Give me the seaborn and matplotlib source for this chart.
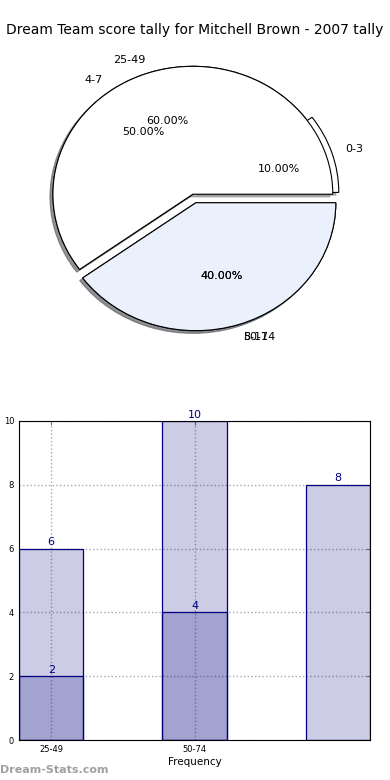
#!/usr/bin/env python3
"""
Dream Team score tally: overlaid pie charts plus overlaid bar chart.
"""
import matplotlib
matplotlib.use("Agg")
import matplotlib.pyplot as plt
import seaborn as sns

TITLE = "Dream Team score tally for Mitchell Brown - 2007 tally"

# first tally (low score ranges)
low_labels = ["0-3", "4-7", "8-11"]
low_counts = [2, 10, 8]

# second tally (high score ranges)
high_labels = ["25-49", "50-74"]
high_counts = [6, 4]

X_LABEL = "Frequency"
Y_LABEL = "Distribution"
WATERMARK = "Dream-Stats.com"

# Styling
LOW_COLORS = ["white", "#eaf0fc", "#eaf0fc"]
HIGH_COLORS = ["white", "#eaf0fc"]
BAR_FACE = (0.0, 0.0, 0.5, 0.2)
BAR_EDGE = "navy"


def draw_pies(fig):
    """Both tallies drawn as pies on the same axes."""
    ax = fig.add_axes([0.046, 0.546, 0.897, 0.41])
    wedge_style = {"edgecolor": "black", "linewidth": 0.8}
    text_style = {"fontsize": 8, "color": "black"}
    shadow_style = {"ox": -0.015, "oy": -0.015, "shade": 0.55}

    ax.pie(low_counts, labels=low_labels, colors=LOW_COLORS,
           explode=[0.045, 0, 0.07], autopct="%.2f%%", shadow=shadow_style,
           wedgeprops=wedge_style, textprops=text_style)
    ax.pie(high_counts, labels=high_labels, colors=HIGH_COLORS,
           explode=[0, 0.07], autopct="%.2f%%", shadow=shadow_style,
           wedgeprops=wedge_style, textprops=text_style)

    # stretched like the original, not a perfect circle
    ax.set_aspect("auto")
    ax.set_xlim(-1.25, 1.25)
    ax.set_ylim(-1.25, 1.25)
    ax.axis("off")


def draw_bars(fig):
    """Both tallies drawn as semi-transparent bars on top of each other."""
    ax = fig.add_axes([19 / 390, 40 / 780, 351 / 390, 319 / 780])

    for counts in (low_counts, high_counts):
        sns.barplot(x=list(range(len(counts))), y=counts, native_scale=True,
                    width=0.45, color=BAR_EDGE, saturation=1, ax=ax)

    for patch in ax.patches:
        patch.set_facecolor(BAR_FACE)
        patch.set_edgecolor(BAR_EDGE)
        patch.set_linewidth(0.9)

    for container in ax.containers:
        ax.bar_label(container, padding=1, color="navy", fontsize=8)

    ax.set_xlim(-0.225, 2.225)
    ax.set_ylim(0, 10)
    ax.set_xticks(range(len(high_labels)))
    ax.set_xticklabels(high_labels)
    ax.set_yticks(range(0, 11, 2))

    ax.grid(True, linestyle=":", color="#a8a8a8", linewidth=1.0)
    ax.tick_params(direction="in", top=True, right=True, length=3,
                   labelsize=6, color="gray", labelcolor="black")
    for spine in ax.spines.values():
        spine.set_visible(True)
        spine.set_color("black")
        spine.set_linewidth(0.8)

    ax.set_xlabel(X_LABEL, fontsize=7.5, labelpad=2, color="black")
    ax.set_ylabel(Y_LABEL, fontsize=7, color="black")
    ax.yaxis.set_label_coords(-0.055, 0.5)


def main():
    sns.set_style("white")
    plt.rcParams["font.family"] = ["DejaVu Sans"]
    plt.rcParams["text.color"] = "black"

    fig = plt.figure(figsize=(3.9, 7.8), dpi=100)
    fig.text(0.5, 1 - 30 / 780, TITLE, ha="center", va="center",
             fontsize=10, color="black")

    draw_pies(fig)
    draw_bars(fig)

    fig.text(0.0, 1 - 770 / 780, WATERMARK, ha="left", va="center",
             fontsize=8, color="#a0a0a0", weight="bold")

    fig.savefig("out.png", dpi=100)
    plt.close(fig)


if __name__ == "__main__":
    main()
